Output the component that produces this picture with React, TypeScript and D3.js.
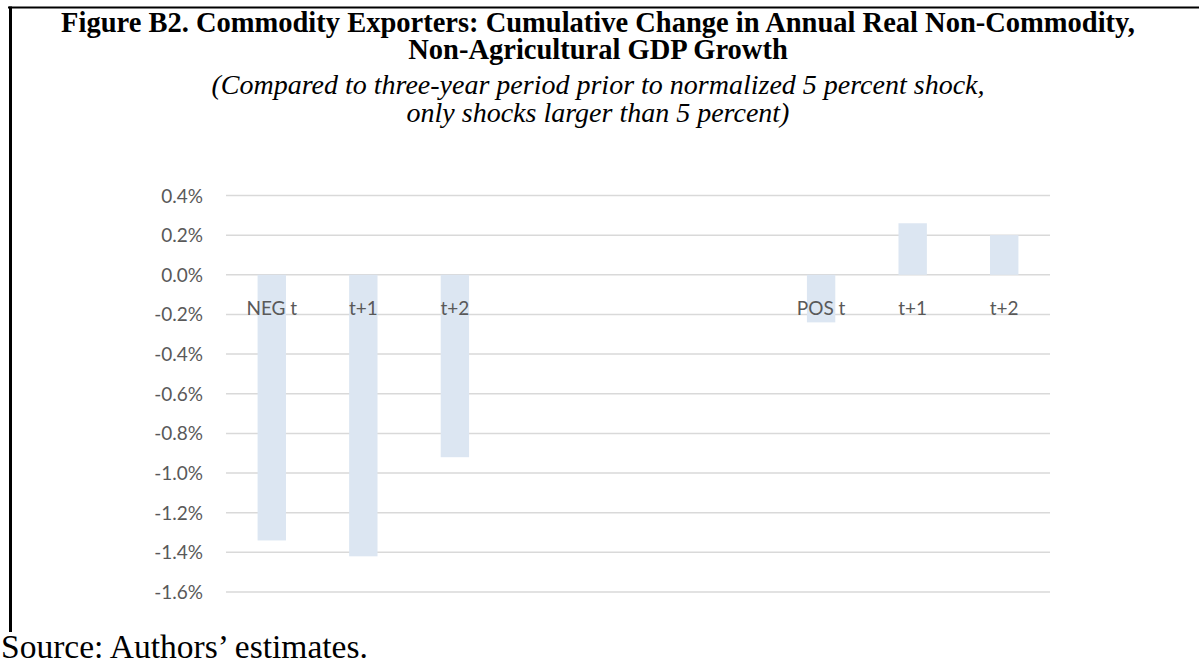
import * as d3 from "d3";

// categories (blank slots are the empty gap between the two groups)
const categories = ["NEG t", "t+1", "t+2", "", "", "", "POS t", "t+1", "t+2"];
const values = [-1.34, -1.42, -0.92, null, null, null, -0.24, 0.26, 0.2];
const yTicks = [0.4, 0.2, 0.0, -0.2, -0.4, -0.6, -0.8, -1.0, -1.2, -1.4, -1.6];

const titleLines = [
  "Figure B2. Commodity Exporters: Cumulative Change in Annual Real Non-Commodity,",
  "Non-Agricultural GDP Growth",
];
const subtitleLines = [
  "(Compared to three-year period prior to normalized 5 percent shock,",
  "only shocks larger than 5 percent)",
];
const source = "Source: Authors\u2019 estimates.";

const W = 1204;
const H = 664;
const plot = { left: 226, right: 1050, top: 195.5, bottom: 592 };

const fmtPct = (v: number) => d3.format(".1f")(v).replace("\u2212", "-") + "%";

export default function App() {
  const y = d3.scaleLinear().domain([-1.6, 0.4]).range([plot.bottom, plot.top]);
  const x = d3
    .scaleBand<number>()
    .domain(categories.map((_, i) => i))
    .range([plot.left, plot.right])
    .paddingInner(0.69)
    .paddingOuter(0.345);

  const axisFont = "Lato, 'Open Sans', sans-serif";
  const serif = "'Liberation Serif', 'Times New Roman', serif";

  return (
    <svg
      width={W}
      height={H}
      style={{ position: "absolute", left: 0, top: 0, background: "#fff" }}
    >
      {/* frame */}
      <line x1={8} x2={1199} y1={7.5} y2={7.5} stroke="#000" strokeWidth={2} />
      <line x1={10.5} x2={10.5} y1={6.5} y2={632} stroke="#000" strokeWidth={3} />

      {/* titles */}
      {titleLines.map((t, i) => (
        <text
          key={"t" + i}
          x={598}
          y={32 + i * 27}
          textAnchor="middle"
          fontFamily={serif}
          fontWeight="bold"
          fontSize={28.5}
          fill="#000"
        >
          {t}
        </text>
      ))}
      {subtitleLines.map((t, i) => (
        <text
          key={"s" + i}
          x={598}
          y={94 + i * 28}
          textAnchor="middle"
          fontFamily={serif}
          fontStyle="italic"
          fontSize={28}
          fill="#000"
        >
          {t}
        </text>
      ))}

      {/* gridlines + y labels */}
      {yTicks.map((v) => (
        <g key={v}>
          <line
            x1={plot.left}
            x2={plot.right}
            y1={y(v)}
            y2={y(v)}
            stroke="#d9d9d9"
            strokeWidth={1.5}
          />
          <text
            x={203}
            y={y(v) + 7}
            textAnchor="end"
            fontFamily={axisFont}
            fontSize={19}
            fill="#595959"
          >
            {fmtPct(v)}
          </text>
        </g>
      ))}

      {/* bars */}
      {values.map((v, i) =>
        v == null ? null : (
          <rect
            key={"b" + i}
            x={x(i)}
            width={x.bandwidth()}
            y={Math.min(y(v), y(0))}
            height={Math.abs(y(v) - y(0))}
            fill="#dce6f2"
          />
        )
      )}

      {/* category labels */}
      {categories.map((c, i) =>
        c ? (
          <text
            key={"c" + i}
            x={x(i)! + x.bandwidth() / 2}
            y={315}
            textAnchor="middle"
            fontFamily={axisFont}
            fontSize={19}
            fill="#595959"
          >
            {c}
          </text>
        ) : null
      )}

      <text x={1} y={658} fontFamily={serif} fontSize={33.5} fill="#000">
        {source}
      </text>
    </svg>
  );
}
